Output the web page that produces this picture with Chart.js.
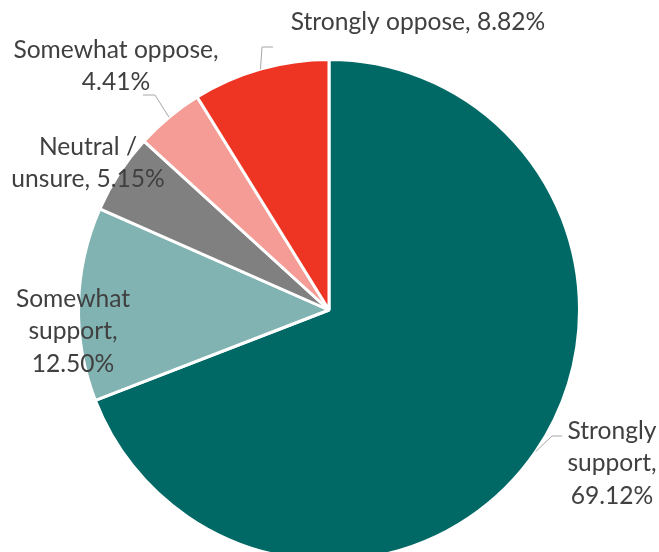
<!DOCTYPE html>
<html>
<head>
<meta charset="utf-8">
<script src="https://cdn.jsdelivr.net/npm/chart.js@4.4.1/dist/chart.umd.min.js"></script>
<style>
  html, body { margin: 0; padding: 0; background: #fff; }
  #wrap { width: 659px; height: 552px; overflow: hidden; position: relative; }
  #box { width: 659px; height: 620px; }
</style>
</head>
<body>
<div id="wrap"><div id="box"><canvas id="pie"></canvas></div></div>
<script>
// categories and values, clockwise from 12 o'clock
const categories = ['Strongly support', 'Somewhat support', 'Neutral / unsure', 'Somewhat oppose', 'Strongly oppose'];
const shares = [69.12, 12.50, 5.15, 4.41, 8.82];
const sliceColors = ['#006966', '#80B3B1', '#808080', '#F49C95', '#EE3524'];

// label text lines per slice
const labelLines = [
    ['Strongly', 'support,', '69.12%'],
    ['Somewhat', 'support,', '12.50%'],
    ['Neutral /', 'unsure, 5.15%'],
    ['Somewhat oppose,', '4.41%'],
    ['Strongly oppose, 8.82%']
];

// label placement (centre of text block) and optional leader elbow/end
const labelLayout = [
    { x: 612, y: 431, leader: [[552, 436], [562, 436]] },
    { x: 73, y: 299 },
    { x: 88, y: 147 },
    { x: 116, y: 50, leader: [[155, 95], [143, 95]] },
    { x: 418, y: 22, leader: [[262, 47], [273, 47]] }
];

const FONT = '24.6px Lato, "Open Sans", sans-serif';
const LINE_H = 32.5;

const outsideLabels = {
    id: 'outsideLabels',
    afterDatasetsDraw(chart) {
        const ctx = chart.ctx;
        const arcs = chart.getDatasetMeta(0).data;
        ctx.save();

        // leader lines from slice mid-angle on the rim
        ctx.strokeStyle = '#A6A6A6';
        ctx.lineWidth = 1;
        arcs.forEach((arc, i) => {
            const lay = labelLayout[i];
            if (!lay.leader) return;
            const p = arc.getProps(['x', 'y', 'startAngle', 'endAngle', 'outerRadius'], true);
            const mid = (p.startAngle + p.endAngle) / 2;
            const sx = p.x + Math.cos(mid) * p.outerRadius;
            const sy = p.y + Math.sin(mid) * p.outerRadius;
            ctx.beginPath();
            ctx.moveTo(sx, sy);
            lay.leader.forEach(pt => ctx.lineTo(pt[0], pt[1]));
            ctx.stroke();
        });

        ctx.fillStyle = '#404040';
        ctx.font = FONT;
        ctx.textAlign = 'center';
        ctx.textBaseline = 'middle';
        labelLines.forEach((lines, i) => {
            const lay = labelLayout[i];
            lines.forEach((line, j) => {
                ctx.fillText(line, lay.x, lay.y + j * LINE_H);
            });
        });
        ctx.restore();
    }
};

new Chart(document.getElementById('pie'), {
    type: 'pie',
    data: {
        labels: categories,
        datasets: [{
            data: shares,
            backgroundColor: sliceColors,
            borderColor: '#ffffff',
            borderWidth: 3
        }]
    },
    options: {
        responsive: true,
        maintainAspectRatio: false,
        animation: false,
        layout: { padding: { left: 77, right: 78, top: 58, bottom: 58 } },
        plugins: {
            legend: { display: false },
            tooltip: { enabled: false }
        }
    },
    plugins: [outsideLabels]
});
</script>
</body>
</html>
